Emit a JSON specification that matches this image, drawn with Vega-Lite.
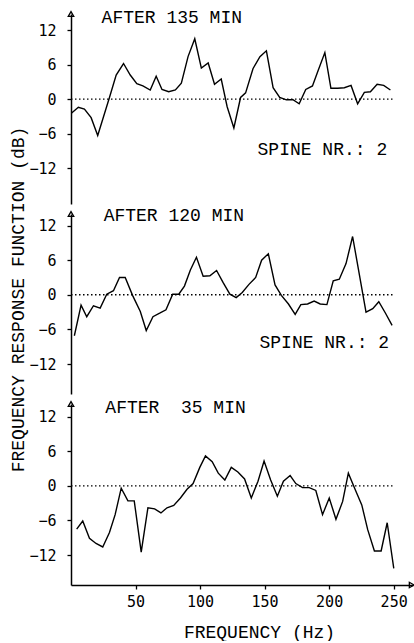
{
  "$schema": "https://vega.github.io/schema/vega-lite/v6.json",
  "padding": {"left": 8, "top": 9, "right": 0, "bottom": 0},
  "background": "white",
  "spacing": 10,
  "bounds": "flush",
  "config": {
    "view": {"stroke": null},
    "font": "Liberation Mono",
    "axis": {
      "grid": false,
      "domainColor": "black",
      "domainWidth": 1.5,
      "tickColor": "black",
      "tickWidth": 1.3,
      "tickSize": 4,
      "labelColor": "black",
      "labelFont": "DejaVu Sans Mono",
      "labelFontSize": 15,
      "titleColor": "black",
      "titleFont": "Liberation Mono",
      "titleFontSize": 18,
      "titleFontWeight": "normal"
    }
  },
  "datasets": {
    "p135": [
      {"hz": 0.5, "db": -2.4}, {"hz": 5.7, "db": -1.4}, {"hz": 10.4, "db": -1.7}, {"hz": 15.6, "db": -3.2},
      {"hz": 20.7, "db": -6.3}, {"hz": 29.8, "db": 0.3}, {"hz": 35, "db": 4.2}, {"hz": 40.7, "db": 6.2},
      {"hz": 45.9, "db": 4.2}, {"hz": 51, "db": 2.7}, {"hz": 55.7, "db": 2.3}, {"hz": 61.4, "db": 1.6},
      {"hz": 66, "db": 4.0}, {"hz": 70.5, "db": 1.7}, {"hz": 75.7, "db": 1.3}, {"hz": 80.9, "db": 1.6},
      {"hz": 85.5, "db": 2.8}, {"hz": 90.7, "db": 7.4}, {"hz": 95.9, "db": 10.5}, {"hz": 101, "db": 5.4},
      {"hz": 106.3, "db": 6.3}, {"hz": 111.2, "db": 2.6}, {"hz": 116.4, "db": 3.5}, {"hz": 121, "db": -1.3},
      {"hz": 126.2, "db": -5.0}, {"hz": 131.4, "db": 0.3}, {"hz": 135.3, "db": 1.1}, {"hz": 141, "db": 5.3},
      {"hz": 146.4, "db": 7.4}, {"hz": 151.4, "db": 8.4}, {"hz": 156.6, "db": 2.0}, {"hz": 161.7, "db": 0.3},
      {"hz": 166.9, "db": -0.1}, {"hz": 172, "db": -0.1}, {"hz": 176.8, "db": -0.8}, {"hz": 181.9, "db": 1.7},
      {"hz": 187.1, "db": 2.3}, {"hz": 191.5, "db": 5.0}, {"hz": 196.7, "db": 8.1}, {"hz": 201.4, "db": 1.9},
      {"hz": 206.6, "db": 1.9}, {"hz": 211.8, "db": 2.0}, {"hz": 217, "db": 2.4}, {"hz": 222.1, "db": -0.8},
      {"hz": 227.3, "db": 1.2}, {"hz": 232, "db": 1.3}, {"hz": 237.2, "db": 2.6}, {"hz": 242.3, "db": 2.4},
      {"hz": 247.5, "db": 1.6}
    ],
    "p120": [
      {"hz": 2.6, "db": -7.1}, {"hz": 7.8, "db": -1.8}, {"hz": 12.2, "db": -3.8}, {"hz": 17.4, "db": -1.9},
      {"hz": 22.6, "db": -2.3}, {"hz": 27.7, "db": 0.1}, {"hz": 32.9, "db": 0.7}, {"hz": 37.6, "db": 3.0},
      {"hz": 42, "db": 3.0}, {"hz": 47.7, "db": -0.1}, {"hz": 53.7, "db": -2.9}, {"hz": 58.3, "db": -6.2},
      {"hz": 63.5, "db": -3.8}, {"hz": 68.7, "db": -3.2}, {"hz": 73.6, "db": -2.6}, {"hz": 78.8, "db": 0.1},
      {"hz": 83.5, "db": 0.1}, {"hz": 87.9, "db": 1.5}, {"hz": 92.5, "db": 4.3}, {"hz": 97.2, "db": 6.5},
      {"hz": 102.4, "db": 3.2}, {"hz": 107.6, "db": 3.3}, {"hz": 112.8, "db": 4.2}, {"hz": 117.9, "db": 2.1},
      {"hz": 123.1, "db": 0.1}, {"hz": 128, "db": -0.5}, {"hz": 132.7, "db": 0.4}, {"hz": 137.9, "db": 1.8},
      {"hz": 143.1, "db": 3.0}, {"hz": 147.7, "db": 6.0}, {"hz": 152.9, "db": 7.1}, {"hz": 158.1, "db": 1.7},
      {"hz": 163, "db": -0.1}, {"hz": 168.5, "db": -1.6}, {"hz": 173.7, "db": -3.4}, {"hz": 178.1, "db": -1.7},
      {"hz": 183.3, "db": -1.6}, {"hz": 188.4, "db": -1.1}, {"hz": 193.1, "db": -1.6}, {"hz": 198.3, "db": -1.7},
      {"hz": 203.2, "db": 2.4}, {"hz": 207.9, "db": 2.7}, {"hz": 213.1, "db": 5.4}, {"hz": 218.2, "db": 10.1},
      {"hz": 228.6, "db": -3.0}, {"hz": 233.8, "db": -2.4}, {"hz": 238.5, "db": -1.2}, {"hz": 243.7, "db": -3.2},
      {"hz": 248.8, "db": -5.3}
    ],
    "p35": [
      {"hz": 4.4, "db": -7.5}, {"hz": 9.1, "db": -6.1}, {"hz": 14.3, "db": -9.1}, {"hz": 19.4, "db": -10.0},
      {"hz": 24.6, "db": -10.6}, {"hz": 29.8, "db": -8.1}, {"hz": 34.2, "db": -5.0}, {"hz": 38.9, "db": -0.4},
      {"hz": 44.1, "db": -2.6}, {"hz": 49, "db": -2.6}, {"hz": 54.4, "db": -11.5}, {"hz": 59.6, "db": -3.8},
      {"hz": 64.8, "db": -4.0}, {"hz": 69.7, "db": -4.7}, {"hz": 74.4, "db": -3.8}, {"hz": 79.6, "db": -3.4},
      {"hz": 84.8, "db": -2.1}, {"hz": 89.9, "db": -0.6}, {"hz": 94.6, "db": 0.4}, {"hz": 99.8, "db": 3.2},
      {"hz": 104.2, "db": 5.2}, {"hz": 109.4, "db": 4.2}, {"hz": 114.1, "db": 2.2}, {"hz": 119.2, "db": 1.0},
      {"hz": 124.2, "db": 3.2}, {"hz": 129.3, "db": 2.4}, {"hz": 134.5, "db": 1.2}, {"hz": 139.7, "db": -2.1},
      {"hz": 144.9, "db": 0.8}, {"hz": 149.6, "db": 4.3}, {"hz": 154.7, "db": 1.0}, {"hz": 159.9, "db": -1.8},
      {"hz": 164.6, "db": 0.8}, {"hz": 169.8, "db": 1.8}, {"hz": 174.2, "db": 0.4}, {"hz": 179.4, "db": -0.3},
      {"hz": 184.6, "db": -0.3}, {"hz": 189.7, "db": -0.8}, {"hz": 194.9, "db": -5.0}, {"hz": 200.1, "db": -2.1},
      {"hz": 205.3, "db": -5.8}, {"hz": 210.5, "db": -2.7}, {"hz": 214.9, "db": 2.2}, {"hz": 220.1, "db": -0.6},
      {"hz": 225.3, "db": -3.3}, {"hz": 229.9, "db": -7.6}, {"hz": 235.1, "db": -11.3}, {"hz": 240.3, "db": -11.3},
      {"hz": 245, "db": -6.4}, {"hz": 250.1, "db": -14.3}
    ]
  },
  "vconcat": [
    {
      "width": 342,
      "height": 190,
      "layer": [
        {
          "data": {"name": "p135"},
          "mark": {"type": "line", "color": "black", "strokeWidth": 1.4},
          "encoding": {
            "x": {"field": "hz", "type": "quantitative", "scale": {"domain": [0, 265], "nice": false}, "axis": null},
            "y": {"field": "db", "type": "quantitative", "scale": {"domain": [-18.2, 14.8], "nice": false, "zero": false},
                  "axis": {"values": [-12, -6, 0, 6, 12], "labelPadding": 11, "title": null}}
          }
        },
        {
          "data": {"values": [{}]},
          "mark": {"type": "rule", "color": "black", "strokeDash": [1.5, 2.5], "strokeWidth": 1.3},
          "encoding": {"x": {"datum": 0}, "x2": {"datum": 250}, "y": {"datum": 0}}
        },
        {
          "data": {"values": [{}]},
          "mark": {"type": "point", "shape": "triangle-up", "filled": false, "color": "black", "size": 30, "strokeWidth": 1.3, "opacity": 1},
          "encoding": {"x": {"datum": 0}, "y": {"datum": 14.8}}
        },
        {
          "data": {"values": [{}]},
          "mark": {"type": "text", "align": "left", "baseline": "alphabetic", "fontSize": 18, "font": "Liberation Mono", "color": "black"},
          "encoding": {"x": {"datum": 23.7}, "y": {"datum": 13.2}, "text": {"value": "AFTER 135 MIN"}}
        },
        {
          "data": {"values": [{}]},
          "mark": {"type": "text", "align": "right", "baseline": "middle", "fontSize": 18, "font": "Liberation Mono", "color": "black"},
          "encoding": {"x": {"datum": 245}, "y": {"datum": -8.8}, "text": {"value": "SPINE NR.: 2"}}
        }
      ]
    },
    {
      "width": 342,
      "height": 180,
      "layer": [
        {
          "data": {"name": "p120"},
          "mark": {"type": "line", "color": "black", "strokeWidth": 1.4},
          "encoding": {
            "x": {"field": "hz", "type": "quantitative", "scale": {"domain": [0, 265], "nice": false}, "axis": null},
            "y": {"field": "db", "type": "quantitative", "scale": {"domain": [-17.2, 14.0], "nice": false, "zero": false},
                  "axis": {"values": [-12, -6, 0, 6, 12], "labelPadding": 11,
                           "title": "FREQUENCY RESPONSE FUNCTION (dB)", "titleAngle": -90, "titleX": -53, "titleY": 85,
                           "titleBaseline": "middle", "titleAlign": "center"}}
          }
        },
        {
          "data": {"values": [{}]},
          "mark": {"type": "rule", "color": "black", "strokeDash": [1.5, 2.5], "strokeWidth": 1.3},
          "encoding": {"x": {"datum": 0}, "x2": {"datum": 250}, "y": {"datum": 0}}
        },
        {
          "data": {"values": [{}]},
          "mark": {"type": "point", "shape": "triangle-up", "filled": false, "color": "black", "size": 30, "strokeWidth": 1.3, "opacity": 1},
          "encoding": {"x": {"datum": 0}, "y": {"datum": 14.0}}
        },
        {
          "data": {"values": [{}]},
          "mark": {"type": "text", "align": "left", "baseline": "alphabetic", "fontSize": 18, "font": "Liberation Mono", "color": "black"},
          "encoding": {"x": {"datum": 25.3}, "y": {"datum": 12.8}, "text": {"value": "AFTER 120 MIN"}}
        },
        {
          "data": {"values": [{}]},
          "mark": {"type": "text", "align": "right", "baseline": "middle", "fontSize": 18, "font": "Liberation Mono", "color": "black"},
          "encoding": {"x": {"datum": 246.5}, "y": {"datum": -8.4}, "text": {"value": "SPINE NR.: 2"}}
        }
      ]
    },
    {
      "width": 342,
      "height": 181,
      "layer": [
        {
          "data": {"name": "p35"},
          "mark": {"type": "line", "color": "black", "strokeWidth": 1.4},
          "encoding": {
            "x": {"field": "hz", "type": "quantitative", "scale": {"domain": [0, 265], "nice": false},
                  "axis": {"values": [50, 100, 150, 200, 250], "labelPadding": 5, "title": "FREQUENCY (Hz)",
                           "titleX": 188, "titleY": 52, "titleBaseline": "alphabetic", "titleAlign": "center"}},
            "y": {"field": "db", "type": "quantitative", "scale": {"domain": [-17.2, 14.2], "nice": false, "zero": false},
                  "axis": {"values": [-12, -6, 0, 6, 12], "labelPadding": 11, "title": null}}
          }
        },
        {
          "data": {"values": [{}]},
          "mark": {"type": "rule", "color": "black", "strokeDash": [1.5, 2.5], "strokeWidth": 1.3},
          "encoding": {"x": {"datum": 0}, "x2": {"datum": 250}, "y": {"datum": 0}}
        },
        {
          "data": {"values": [{}]},
          "mark": {"type": "point", "shape": "triangle-up", "filled": false, "color": "black", "size": 30, "strokeWidth": 1.3, "opacity": 1},
          "encoding": {"x": {"datum": 0}, "y": {"datum": 14.2}}
        },
        {
          "data": {"values": [{}]},
          "mark": {"type": "point", "shape": "triangle-right", "filled": false, "color": "black", "size": 30, "strokeWidth": 1.3, "opacity": 1},
          "encoding": {"x": {"datum": 264}, "y": {"datum": -17.2}}
        },
        {
          "data": {"values": [{}]},
          "mark": {"type": "text", "align": "left", "baseline": "alphabetic", "fontSize": 18, "font": "Liberation Mono", "color": "black"},
          "encoding": {"x": {"datum": 26.6}, "y": {"datum": 12.7}, "text": {"value": "AFTER\u00a0\u00a035 MIN"}}
        }
      ]
    }
  ]
}
